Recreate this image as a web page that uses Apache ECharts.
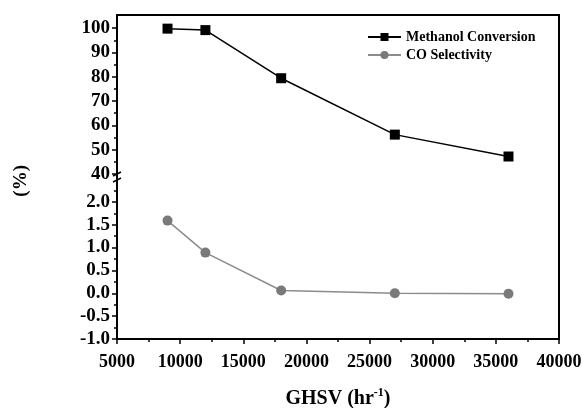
<!DOCTYPE html>
<html>
<head>
<meta charset="utf-8">
<script src="https://cdn.jsdelivr.net/npm/echarts@6/dist/echarts.min.js"></script>
<style>
html,body{margin:0;padding:0;background:#fff;}
#chart{width:582px;height:408px;}
</style>
</head>
<body>
<div id="chart"></div>
<script>
// ---- data ----
var ghsv = [9000, 12000, 18000, 27000, 36000];
var methanolConversion = [99.8, 99.2, 79.4, 56.2, 47.2];
var coSelectivity = [1.59, 0.89, 0.06, 0.0, -0.01];
var xMajorTicks = [5000, 10000, 15000, 20000, 25000, 30000, 35000, 40000];
var xMinorTicks = [7500, 12500, 17500, 22500, 27500, 32500, 37500];
var upperMajorTicks = [40, 50, 60, 70, 80, 90, 100];
var upperMinorTicks = [45, 55, 65, 75, 85, 95];
var lowerMajorTicks = [-1.0, -0.5, 0.0, 0.5, 1.0, 1.5, 2.0];
var lowerMinorTicks = [-0.75, -0.25, 0.25, 0.75, 1.25, 1.75, 2.25];

function pairs(xs, ys) { return xs.map(function (x, i) { return [x, ys[i]]; }); }

var FONT = 'Liberation Serif';
var chart = echarts.init(document.getElementById('chart'));

var L = 117, R = 23, TOP = 16, UPB = 174, LOWT = 179, BOT = 339;

function yAx(grid, min, max, vals, decimals, isLabel) {
  return {
    type: 'value', gridIndex: grid, min: min, max: max, position: 'left', offset: 0,
    axisLine: { show: false, onZero: false },
    splitLine: { show: false },
    axisTick: { show: true, inside: false, length: isLabel ? 5 : 3,
      customValues: vals, lineStyle: { color: '#000', width: 1.5 } },
    axisLabel: isLabel ? {
      show: true, customValues: vals, margin: 7,
      fontFamily: FONT, fontWeight: 'bold', fontSize: 19, color: '#000',
      formatter: decimals ? function (v) { return Number(v).toFixed(1); } : function (v) { return String(v); }
    } : { show: false }
  };
}

var option = {
  animation: false,
  backgroundColor: '#fff',
  grid: [
    { left: L, right: R, top: TOP, height: UPB - TOP, containLabel: false, outerBoundsMode: 'none' },
    { left: L, right: R, top: LOWT, height: BOT - LOWT, containLabel: false, outerBoundsMode: 'none' }
  ],
  xAxis: [
    { type: 'value', gridIndex: 0, min: 5000, max: 40000, show: false },
    {
      type: 'value', gridIndex: 1, min: 5000, max: 40000, position: 'bottom',
      axisLine: { show: false, onZero: false }, splitLine: { show: false },
      axisTick: { show: true, length: 5, customValues: xMajorTicks, lineStyle: { color: '#000', width: 1.5 } },
      axisLabel: { customValues: xMajorTicks, margin: 14, fontFamily: FONT, fontWeight: 'bold', fontSize: 18, color: '#000',
        formatter: function (v) { return String(v); } },
      name: '{a|GHSV (hr}{s|-1}{a|)}',
      nameLocation: 'middle', nameGap: 48,
      nameTextStyle: {
        rich: {
          a: { fontFamily: FONT, fontWeight: 'bold', fontSize: 20, color: '#000', verticalAlign: 'bottom', lineHeight: 22 },
          s: { fontFamily: FONT, fontWeight: 'bold', fontSize: 12, color: '#000', verticalAlign: 'top', lineHeight: 22, padding: [0, 0, 10, 0] }
        }
      }
    },
    {
      type: 'value', gridIndex: 1, min: 5000, max: 40000, position: 'bottom', offset: 0,
      axisLine: { show: false, onZero: false }, splitLine: { show: false },
      axisTick: { show: true, length: 3, customValues: xMinorTicks, lineStyle: { color: '#000', width: 1.5 } },
      axisLabel: { show: false }
    }
  ],
  yAxis: [
    yAx(0, 40, 105, upperMajorTicks, false, true),
    yAx(0, 40, 105, upperMinorTicks, false, false),
    yAx(1, -1, 2.5, lowerMajorTicks, true, true),
    yAx(1, -1, 2.5, lowerMinorTicks, true, false)
  ],
  legend: {
    orient: 'vertical', left: 362, top: 25, itemGap: 4,
    itemWidth: 33, itemHeight: 10,
    textStyle: { fontFamily: FONT, fontWeight: 'bold', fontSize: 14, color: '#000', lineHeight: 14 },
    data: ['Methanol Conversion', 'CO Selectivity']
  },
  series: [
    {
      name: 'Methanol Conversion', type: 'line', xAxisIndex: 0, yAxisIndex: 0,
      data: pairs(ghsv, methanolConversion),
      symbol: 'rect', symbolSize: 10,
      itemStyle: { color: '#000' }, lineStyle: { color: '#000', width: 1.5 }
    },
    {
      name: 'CO Selectivity', type: 'line', xAxisIndex: 1, yAxisIndex: 2,
      data: pairs(ghsv, coSelectivity),
      symbol: 'circle', symbolSize: 10,
      itemStyle: { color: '#7a7a7a' }, lineStyle: { color: '#8c8c8c', width: 1.5 }
    }
  ],
  graphic: [
    { type: 'rect', shape: { x: L, y: 15, width: 582 - R - L, height: BOT - 15 },
      style: { fill: 'none', stroke: '#000', lineWidth: 2 }, z: 100 },
    { type: 'line', shape: { x1: L - 4, y1: 176, x2: L + 4, y2: 172 }, style: { stroke: '#000', lineWidth: 1.5 }, z: 101 },
    { type: 'line', shape: { x1: L - 4, y1: 182, x2: L + 4, y2: 178 }, style: { stroke: '#000', lineWidth: 1.5 }, z: 101 },
    { type: 'text', left: 12, top: 165, rotation: Math.PI / 2,
      style: { text: '(%)', font: 'bold 19px "Liberation Serif"', fill: '#000' }, z: 101 }
  ]
};
chart.setOption(option);
</script>
</body>
</html>
